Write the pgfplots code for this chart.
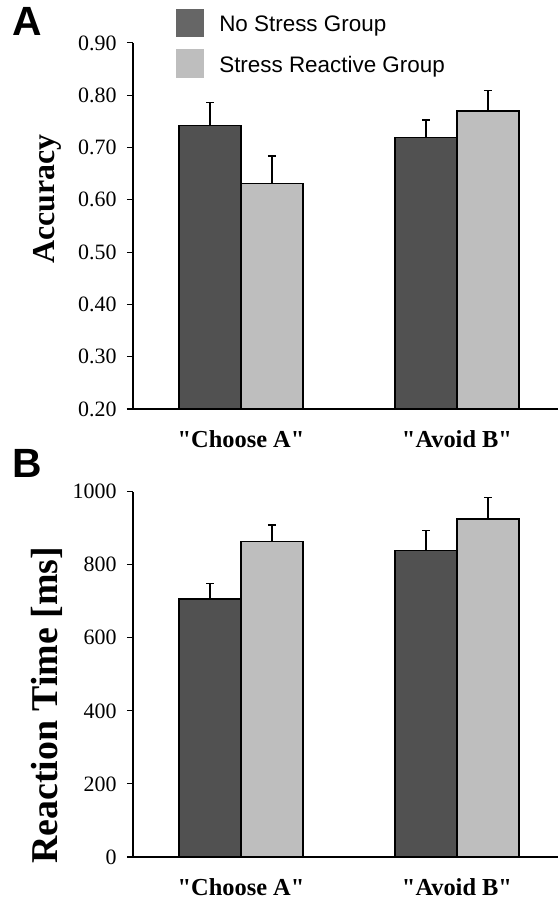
\documentclass[border=0pt]{standalone}
\usepackage{fontspec}
\setmainfont{Liberation Serif}[Ligatures=TeXOff]
\newfontfamily\sansf{Liberation Sans}
\usepackage{pgfplots}
\pgfplotsset{compat=1.18}

\definecolor{barDark}{HTML}{515151}
\definecolor{barLight}{HTML}{BEBEBE}
\definecolor{legDark}{HTML}{666666}

\pgfplotsset{
  panel/.style={
    scale only axis, width=425bp, height=366bp,
    xmin=-0.5, xmax=1.4676, clip=false,
    axis x line*=bottom, axis y line*=left,
    axis line style={line width=1.2bp},
    xtick={0,1}, xticklabels={"Choose A","Avoid B"},
    x tick style={draw=none},
    xticklabel style={font=\fontsize{24.5}{28}\selectfont\bfseries, yshift=-12bp},
    tick align=outside, major tick length=6bp,
    y tick style={line width=1bp, black},
    yticklabel style={font=\fontsize{22}{26}\selectfont, xshift=-7bp},
    /pgf/number format/assume math mode=true,
    ybar, bar width=0.287, bar shift=0pt,
    error bars/y dir=plus, error bars/y explicit,
    error bars/error bar style={line width=1.3bp, black},
    error bars/error mark options={rotate=90, mark size=4bp, line width=1.3bp, black},
  },
  darkbar/.style={draw=black, line width=1.2bp, fill=barDark},
  lightbar/.style={draw=black, line width=1.2bp, fill=barLight},
}

\begin{document}
\begin{tikzpicture}
\useasboundingbox (-133bp,-50bp) rectangle (425bp,857bp);

% Panel A: accuracy
\begin{axis}[panel, at={(0,448bp)},
  ymin=0.2, ymax=0.9, ytick={0.2,0.3,...,0.9},
  yticklabel style={/pgf/number format/.cd, fixed, fixed zerofill, precision=2},
  ylabel={Accuracy},
  ylabel style={font=\fontsize{32}{36}\selectfont\bfseries,
    at={(axis description cs:-0.2024,0.574)}, anchor=center},
  legend style={at={(axis description cs:0.101,1.093)}, anchor=north west,
    draw=none, fill=none, inner sep=0pt, row sep=12bp,
    font=\sansf\fontsize{22.5}{26}\selectfont,
    /tikz/every odd column/.style={column sep=13bp}},
  legend cell align=left,
]
\addplot[darkbar, legend image code/.code={\fill[legDark] (0bp,-12bp) rectangle (27bp,15bp);}]
  coordinates {(-0.1435,0.742) +- (0,0.044) (0.8565,0.720) +- (0,0.033)};
\addlegendentry{No Stress Group}
\addplot[lightbar, legend image code/.code={\fill[barLight] (0bp,-12bp) rectangle (27bp,15bp);}]
  coordinates {(0.1435,0.632) +- (0,0.052) (1.1435,0.770) +- (0,0.039)};
\addlegendentry{Stress Reactive Group}
\node[font=\sansf\bfseries\fontsize{41}{44}\selectfont, anchor=center]
  at (axis description cs:-0.249,1.060) {A};
\end{axis}
\draw[line width=1.2bp] (-6bp,448bp) -- (0,448bp);

% Panel B: reaction time
\begin{axis}[panel, at={(0,0)}, height=365.3bp,
  ymin=0, ymax=1000, ytick={0,200,...,1000},
  yticklabel style={/pgf/number format/1000 sep={}},
  ylabel={Reaction Time [ms]},
  ylabel style={font=\fontsize{38}{42}\selectfont\bfseries,
    at={(axis description cs:-0.2024,0.415)}, anchor=center},
]
\addplot[darkbar]
  coordinates {(-0.1435,706) +- (0,42) (0.8565,839) +- (0,55)};
\addplot[lightbar]
  coordinates {(0.1435,864) +- (0,45) (1.1435,925) +- (0,60)};
\node[font=\sansf\bfseries\fontsize{41}{44}\selectfont, anchor=center]
  at (axis description cs:-0.2494,1.0786) {B};
\end{axis}
\draw[line width=1.2bp] (-6bp,0) -- (0,0);
\end{tikzpicture}
\end{document}
